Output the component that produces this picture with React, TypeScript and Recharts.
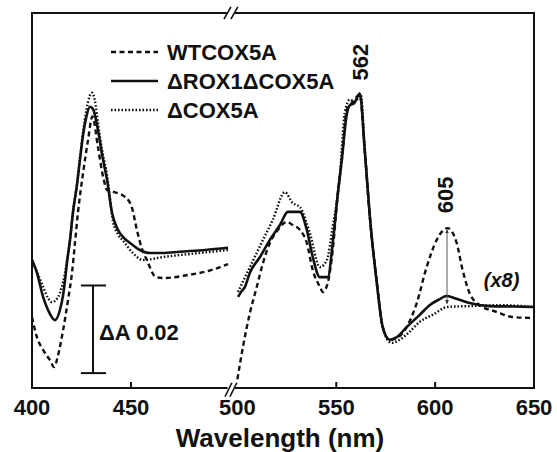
import React from 'react';
import {
  ComposedChart,
  Line,
  XAxis,
  YAxis,
  ReferenceLine,
  ReferenceDot,
  ReferenceArea,
  Label,
  Legend,
} from 'recharts';

// difference spectra, absorbance in mA, wavelength in nm
const wtLeft = [
  [400, 16.2], [402.5, 11.6], [405.6, 8.7], [409, 6.4], [411.2, 4.8], [413, 7.2],
  [415.7, 13.2], [418.2, 20.1], [420.2, 26.3], [421.7, 33.1], [423.2, 40.0], [425.8, 49.1],
  [428.3, 56.6], [430.5, 62.0], [433.3, 55.0], [436, 48.0], [437.9, 45.2], [440.9, 44.8],
  [447, 43.6], [450.5, 41.1], [453, 36.0], [455.5, 31.8], [458, 29.2], [462.6, 25.3],
  [466.7, 25.1], [478.8, 25.8], [488.9, 26.7], [499, 28.3],
];
const roxLeft = [
  [400, 29.2], [402.5, 26.3], [405.6, 20.8], [408.1, 17.8], [411.6, 15.5], [414.1, 17.8],
  [415.7, 21.2], [416.7, 24.7], [417.7, 28.8], [419.2, 33.8], [420.7, 40.2], [422.7, 46.3],
  [424.2, 52.0], [425.8, 57.8], [427.3, 61.6], [429.3, 64.2], [431, 63.5], [433.3, 58.9],
  [435.5, 53.0], [437.9, 47.5], [440.4, 40.0], [443.4, 36.1], [446.5, 34.2], [449.5, 33.1],
  [454.5, 31.5], [459.6, 30.8], [466, 30.8], [474.7, 31.1], [487.4, 31.5], [499, 32.0],
];
const coxLeft = [
  [400, 29.2], [402.5, 26.5], [405.6, 23.1], [408.1, 20.5], [410.1, 19.6], [412.1, 20.1],
  [414.1, 21.7], [415.7, 24.2], [417.7, 29.0], [419.2, 33.8], [420.7, 40.0], [422.7, 46.5],
  [424.2, 52.5], [425.8, 58.5], [427.5, 63.5], [429, 66.5], [430.3, 67.4], [431.8, 65.5],
  [433.3, 60.5], [435.5, 54.0], [437.9, 48.6], [440.9, 38.1], [443.5, 35.0], [446, 33.6],
  [451, 30.8], [456, 29.2], [466.2, 29.9], [480, 30.6], [499, 31.5],
];

const wtRight = [
  [500, 2.0], [502.8, 9.4], [506.3, 17.1], [509.8, 23.1], [512.9, 28.5], [516.4, 33.1],
  [520.5, 36.1], [525, 37.9], [528, 37.2], [531.6, 36.1], [535.1, 33.1], [538.1, 26.9],
  [541.7, 23.1], [543.2, 21.9], [545.7, 24.0], [548.2, 31.5], [550.8, 44.5], [552.8, 52.0],
  [555.3, 63.5], [557.8, 65.0], [561.9, 66.9], [564.4, 54.3], [567, 39.0], [570.5, 24.0],
  [573.5, 13.9], [577, 11.0], [580.6, 11.4], [585.6, 13.9], [590.7, 19.4], [595.7, 27.6],
  [600.8, 33.8], [606.3, 36.5], [610.9, 33.1], [613.9, 26.9], [617.4, 21.7], [622.5, 18.9],
  [631, 17.4], [639.1, 16.2], [649.5, 16.0],
];
const roxRight = [
  [500.3, 20.8], [502, 22.0], [503.8, 23.1], [506.3, 26.3], [511.4, 29.9], [516.4, 33.8],
  [521.5, 37.2], [525.5, 40.2], [531.6, 40.2], [535.1, 36.1], [538.1, 29.9], [541.7, 25.3],
  [545.7, 25.3], [548.2, 33.1], [550.8, 44.5], [552.8, 52.1], [555.3, 62.5], [556.8, 64.5],
  [559, 65.0], [561.9, 67.2], [564.4, 54.3], [567, 39.0], [570.5, 24.0], [573.5, 13.9],
  [577, 11.0], [580.6, 11.6], [585.6, 13.9], [592.2, 16.7], [597.2, 18.9], [602, 20.2],
  [605.8, 21.0], [609.8, 20.5], [617.4, 19.4], [627.5, 18.7], [640, 18.6], [649.7, 18.5],
];
const coxRight = [
  [500.3, 21.9], [503, 24.5], [506.3, 27.6], [512.9, 33.8], [517.9, 38.4], [524, 44.7],
  [528, 42.2], [531.6, 41.3], [536.6, 35.4], [541.7, 27.6], [545.2, 29.2], [548.2, 36.8],
  [551.8, 48.2], [554.3, 62.8], [556.8, 65.8], [559.3, 65.3], [562.4, 66.9], [564.4, 54.3],
  [567, 39.0], [570.5, 24.0], [573.5, 13.7], [578, 10.3], [582, 11.0], [587, 12.8],
  [592.2, 15.1], [598.7, 16.7], [606.3, 18.5], [617.4, 18.7], [634, 18.9], [649.7, 18.5],
];

const leftTicks = [400, 450];
const rightTicks = [500, 550, 600, 650];
const seriesNames = ['WTCOX5A', '\u0394ROX1\u0394COX5A', '\u0394COX5A'];
const peakLabels = [562, 605];

const toPts = (arr: number[][]) => arr.map(([w, v]) => ({ w, v }));

const INK = '#111';
const FONT = '"Liberation Sans", Arial, sans-serif';
const Y_MAX = 85.6;
const RIGHT_DOMAIN: [number, number] = [396.1, 650];

// dash pattern per strain
const dashes: Record<string, string | undefined> = {
  [seriesNames[0]]: '5 3.5',
  [seriesNames[1]]: undefined,
  [seriesNames[2]]: '1.6 1.9',
};

const Tick = (props: any) => {
  const { x, y, payload } = props;
  const base = Math.round(y) > 388 ? y - 1 : y;
  return (
    <g>
      {payload.value !== 500 && payload.value !== 400 && payload.value !== 650 && (
        <line x1={x} x2={x} y1={base} y2={base - 6} stroke={INK} strokeWidth={2} />
      )}
      <text x={x} y={base + 27} textAnchor="middle" fontSize={22} fontWeight="bold" fontFamily={FONT} fill={INK}>
        {payload.value}
      </text>
    </g>
  );
};

const renderLegend = () => (
  <svg width={280} height={100} style={{ overflow: 'visible' }}>
    {seriesNames.map((name, i) => {
      const cy = 17 + i * 29;
      return (
        <g key={name}>
          <line x1={6} x2={53} y1={cy} y2={cy} stroke={INK} strokeWidth={2.4} strokeDasharray={dashes[name]} />
          <text x={62} y={cy + 8} fontSize={22} fontWeight="bold" fontFamily={FONT} fill={INK}>
            {name}
          </text>
        </g>
      );
    })}
  </svg>
);

const lineProps = (name: string) => ({
  type: 'monotone' as const,
  dataKey: 'v',
  name,
  stroke: INK,
  strokeWidth: name === seriesNames[1] ? 2.6 : 2.4,
  strokeDasharray: dashes[name],
  dot: false,
  activeDot: false,
  isAnimationActive: false,
});

const textStyle = { fontSize: 22, fontWeight: 'bold', fontFamily: FONT, fill: INK };

export default function App() {
  return (
    <div style={{ position: 'absolute', left: 0, top: 0, background: '#fff' }}>
      <ComposedChart width={557} height={452} margin={{ top: 13, right: 23, left: 32, bottom: 0 }}>
        <defs>
          <marker id="tip" viewBox="0 0 6 6" refX="6" refY="3" markerWidth="4" markerHeight="4" orient="auto-start-reverse">
            <path d="M0,0L6,3L0,6z" fill="#333" />
          </marker>
        </defs>
        <XAxis
          xAxisId="L"
          dataKey="w"
          type="number"
          domain={[400, 653.5]}
          allowDataOverflow
          ticks={leftTicks}
          interval={0}
          height={1}
          axisLine={false}
          tickLine={false}
          tickSize={0}
          tickMargin={0}
          tick={<Tick />}
        />
        <XAxis
          xAxisId="R"
          dataKey="w"
          type="number"
          domain={RIGHT_DOMAIN}
          allowDataOverflow
          ticks={rightTicks}
          interval={0}
          height={63}
          axisLine={false}
          tickLine={false}
          tickSize={0}
          tickMargin={0}
          tick={<Tick />}
        >
          <Label value="Wavelength (nm)" position="insideBottom" offset={5} dx={-3} {...textStyle} fontSize={26} />
        </XAxis>
        <YAxis type="number" domain={[0, Y_MAX]} allowDataOverflow hide />

        <Legend
          layout="vertical"
          align="center"
          verticalAlign="middle"
          wrapperStyle={{ position: 'absolute', left: 105, top: 35, width: 280, height: 100 }}
          content={renderLegend}
        />

        {/* frame */}
        <ReferenceArea
          xAxisId="R"
          x1={RIGHT_DOMAIN[0]}
          x2={RIGHT_DOMAIN[1]}
          y1={0}
          y2={Y_MAX}
          fill="none"
          fillOpacity={0}
          stroke={INK}
          strokeWidth={2}
          strokeOpacity={1}
          ifOverflow="visible"
        />

        <Line xAxisId="L" data={toPts(wtLeft)} {...lineProps(seriesNames[0])} />
        <Line xAxisId="L" data={toPts(roxLeft)} {...lineProps(seriesNames[1])} />
        <Line xAxisId="L" data={toPts(coxLeft)} {...lineProps(seriesNames[2])} />
        <Line xAxisId="R" data={toPts(wtRight)} {...lineProps(seriesNames[0])} legendType="none" />
        <Line xAxisId="R" data={toPts(roxRight)} {...lineProps(seriesNames[1])} legendType="none" />
        <Line xAxisId="R" data={toPts(coxRight)} {...lineProps(seriesNames[2])} legendType="none" />

        {/* axis breaks */}
        <ReferenceLine xAxisId="R" ifOverflow="visible" stroke="#fff" strokeWidth={5}
          segment={[{ x: 495, y: Y_MAX }, { x: 498.5, y: Y_MAX }]} />
        <ReferenceLine xAxisId="R" ifOverflow="visible" stroke="#fff" strokeWidth={5}
          segment={[{ x: 495, y: 0 }, { x: 498.5, y: 0 }]} />
        <ReferenceLine xAxisId="R" ifOverflow="visible" stroke={INK} strokeWidth={1.6}
          segment={[{ x: 493.2, y: 84.2 }, { x: 496.7, y: 87 }]} />
        <ReferenceLine xAxisId="R" ifOverflow="visible" stroke={INK} strokeWidth={1.6}
          segment={[{ x: 496.7, y: 84.2 }, { x: 500.2, y: 87 }]} />
        <ReferenceLine xAxisId="R" ifOverflow="visible" stroke={INK} strokeWidth={1.6}
          segment={[{ x: 493.7, y: -2 }, { x: 497.2, y: 1.2 }]} />
        <ReferenceLine xAxisId="R" ifOverflow="visible" stroke={INK} strokeWidth={1.6}
          segment={[{ x: 496.2, y: -2 }, { x: 499.7, y: 1.2 }]} />

        {/* scale bar */}
        <ReferenceLine xAxisId="L" stroke={INK} strokeWidth={2}
          segment={[{ x: 430.8, y: 3.4 }, { x: 430.8, y: 23.4 }]} />
        <ReferenceLine xAxisId="L" stroke={INK} strokeWidth={2}
          segment={[{ x: 424.7, y: 23.4 }, { x: 437.4, y: 23.4 }]} />
        <ReferenceLine xAxisId="L" stroke={INK} strokeWidth={2}
          segment={[{ x: 424.7, y: 3.4 }, { x: 437.4, y: 3.4 }]} />
        <ReferenceDot xAxisId="L" x={430.8} y={12.8} r={0} stroke="none" fill="none">
          <Label value={'\u0394A 0.02'} position="right" offset={6} {...textStyle} />
        </ReferenceDot>

        {/* peak marks */}
        <ReferenceLine xAxisId="R" stroke="#555" strokeWidth={1}
          segment={[{ x: 606, y: 19.2 }, { x: 606, y: 36.2 }]}
          markerStart="url(#tip)" markerEnd="url(#tip)" />
        <ReferenceDot xAxisId="R" x={peakLabels[0]} y={74.4} r={0} stroke="none" fill="none">
          <Label value={String(peakLabels[0])} position="center" angle={-90} {...textStyle} />
        </ReferenceDot>
        <ReferenceDot xAxisId="R" x={peakLabels[1]} y={44.1} r={0} stroke="none" fill="none">
          <Label value={String(peakLabels[1])} position="center" angle={-90} {...textStyle} />
        </ReferenceDot>
        <ReferenceDot xAxisId="R" x={633.6} y={24.7} r={0} stroke="none" fill="none">
          <Label value="(x8)" position="center" {...textStyle} fontSize={20} fontStyle="italic" />
        </ReferenceDot>
      </ComposedChart>
    </div>
  );
}
